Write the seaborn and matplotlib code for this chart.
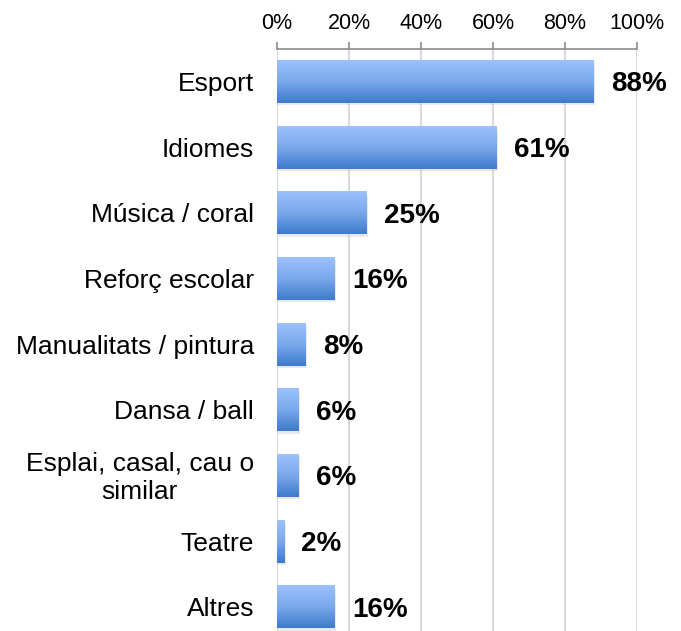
import matplotlib
matplotlib.use("Agg")
import matplotlib.pyplot as plt
import seaborn as sns
import numpy as np
import pandas as pd
from matplotlib.colors import LinearSegmentedColormap

categories = ["Esport", "Idiomes", "Música / coral", "Reforç escolar",
              "Manualitats / pintura", "Dansa / ball",
              "Esplai, casal, cau o\nsimilar", "Teatre", "Altres"]
values = [88, 61, 25, 16, 8, 6, 6, 2, 16]
tick_values = [0, 20, 40, 60, 80, 100]
tick_labels = ["0%", "20%", "40%", "60%", "80%", "100%"]

df = pd.DataFrame({"cat": categories, "val": values})

sns.set_theme(style="white")
plt.rcParams["font.family"] = ["Liberation Sans", "DejaVu Sans"]

fig = plt.figure(figsize=(6.81, 6.31), dpi=100)
ax = fig.add_axes([277/681, 1 - 640/631, 360/681, (640 - 49)/631])

sns.barplot(data=df, x="val", y="cat", orient="h", ax=ax, width=0.64,
            color="#6fa0e6", saturation=1, zorder=3)

cmap = LinearSegmentedColormap.from_list("g", ["#9cc2fc", "#7aa8ec", "#3d7acb"])
grad = np.linspace(0, 1, 256).reshape(-1, 1)
for p in ax.patches:
    x0, y0 = p.get_x(), p.get_y()
    w, h = p.get_width(), p.get_height()
    ax.add_patch(plt.Rectangle((x0 + 0.4, y0 + 0.04), w, h, color="#d0d0d0",
                               alpha=0.45, zorder=2, lw=0))
    p.set_visible(False)
    ax.imshow(grad, cmap=cmap, aspect="auto", zorder=3,
              extent=(x0, x0 + w, y0 + h, y0), interpolation="bicubic")

ax.set_xlim(0, 100)
ax.set_ylim(len(categories) - 0.5, -0.5)

for i, v in enumerate(values):
    ax.text(v + 4.8, i + 0.04, f"{v}%", ha="left", va="center", fontsize=20,
            fontweight="bold", color="black", zorder=4)

ax.xaxis.tick_top()
ax.set_xticks(tick_values)
ax.set_xticklabels(tick_labels, fontsize=15.5, color="black")
ax.tick_params(axis="x", direction="out", length=5, width=1.2, color="#8c8c8c",
               pad=6, top=True, bottom=False, labelcolor="black")

# category labels (right-aligned block, centred lines)
ax.set_yticks(range(len(categories)))
ax.set_yticklabels([""] * len(categories))
ax.tick_params(axis="y", length=0)
ytrans = ax.get_yaxis_transform()
for i, c in enumerate(categories):
    ax.text(-23 / 360, i + 0.035, c, transform=ytrans, ha="right", va="center",
            multialignment="center", fontsize=19, color="black")

ax.grid(axis="x", color="#d9d9d9", linewidth=1.5, zorder=0)
ax.set_axisbelow(True)
for s in ["right", "bottom", "left"]:
    ax.spines[s].set_visible(False)
ax.spines["top"].set_color("#8c8c8c")
ax.spines["top"].set_linewidth(1.2)
ax.set_xlabel("")
ax.set_ylabel("")

fig.savefig("out.png", dpi=100)
